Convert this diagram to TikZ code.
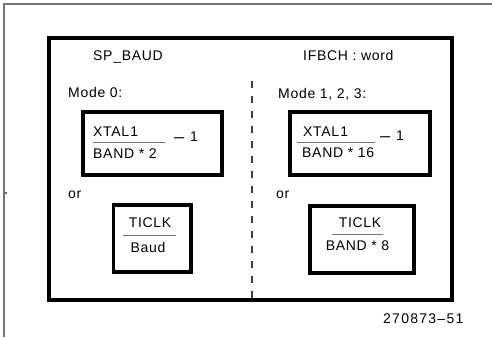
\documentclass[tikz,border=0pt]{standalone}
\usepackage{fontspec}
\usepackage{graphicx}
\setmainfont{Liberation Sans}[LetterSpace=5]
\newfontfamily\labfont{Liberation Sans}[LetterSpace=9]
\begin{document}
\begin{tikzpicture}[x=1pt,y=-1pt,
  txt/.style={font=\fontsize{14}{16}\selectfont, inner sep=0pt},
  lt/.style={txt, anchor=base west},
  ct/.style={txt, anchor=base},
  minus/.style={txt, anchor=base west},
  thickbox/.style={draw=black, line width=3.5pt},
  fracline/.style={draw=black!55, line width=1pt},
  frame/.style={draw=black!55, line width=1.3pt}]
\useasboundingbox (0,0) rectangle (492,337);
% outer thin frame
\draw[frame] (492,4) -- (4,4) -- (4,337);
\draw[frame] (4,193) -- (7,193);
% main box
\draw[thickbox] (49,38) rectangle (452,300);
% divider
\draw[black!75, line width=1.8pt, dash pattern=on 7pt off 8pt] (252,81) -- (252,298);
% headings
\node[lt] (sp) at (93,60) {SP\_BAUD};
\node[lt] (ifb) at (303,60) {IFBCH : word};
\node[lt] (m0) at (68,97) {Mode 0:};
\node[lt] (m1) at (278,98) {Mode 1, 2, 3:};
% box 1
\draw[thickbox] (83,112) rectangle (222,175);
\node[lt] (x1) at (93,136) {XTAL\kern1pt 1};
\draw[fracline] (93,142) -- (165,142);
\node[lt] (b1) at (93,158) {BAND * 2};
\node[minus] (mi1) at (174,142.5) {\scalebox{1.3}[1.2]{\char"2013}};
\node[lt] (o1) at (190,141) {1};
% box 2
\draw[thickbox] (290,112) rectangle (430,175);
\node[lt] (x2) at (303,136) {XTAL\kern1pt 1};
\draw[fracline] (297,142) -- (375,142);
\node[lt] (b2) at (302,157) {BAND * 16};
\node[minus] (mi2) at (380,141.5) {\scalebox{1.3}[1.2]{\char"2013}};
\node[lt] (o2) at (396,140) {1};
% or
\node[lt] (or1) at (68,198) {or};
\node[lt] (or2) at (276,198) {or};
% box 3
\draw[thickbox] (113.5,205) rectangle (191,272);
\node[ct] (t1) at (150,227) {TICLK};
\draw[fracline] (123,235) -- (176,235);
\node[ct] (bd) at (148,252) {Baud};
% box 4
\draw[thickbox] (310,206) rectangle (414,273);
\node[ct] (t2) at (360,227) {TICLK};
\draw[fracline] (332,234) -- (383,234);
\node[ct] (b8) at (357.5,250) {BAND * 8};
% figure label
\node[txt, anchor=base west, font=\labfont\fontsize{14}{16}\selectfont] (lab) at (383,323) {270873\char"2013 51};
\end{tikzpicture}
\end{document}
